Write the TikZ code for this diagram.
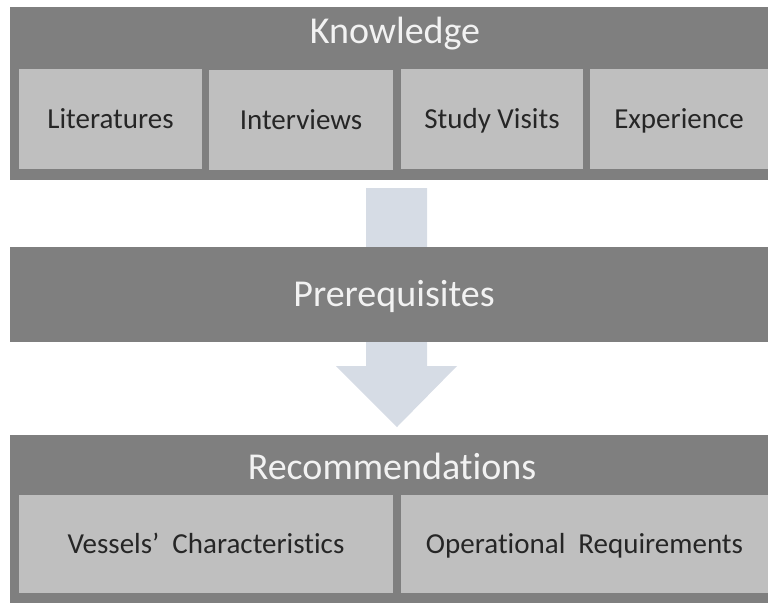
\documentclass[tikz,border=0pt]{standalone}
\usepackage{fontspec}
\setmainfont{Carlito}[RawFeature={-liga;-clig;-calt;-dlig}]
\definecolor{darkbox}{HTML}{7F7F7F}
\definecolor{lightbox}{HTML}{BFBFBF}
\definecolor{titletext}{HTML}{F2F2F2}
\definecolor{innertext}{HTML}{262626}
\definecolor{arrowfill}{HTML}{D6DCE5}
\begin{document}
\begin{tikzpicture}[x=1pt,y=1pt,
  bigbox/.style={fill=darkbox, draw=none, inner sep=0pt, outer sep=0pt, anchor=north west},
  subbox/.style={fill=lightbox, draw=none, inner sep=0pt, outer sep=0pt, anchor=north west,
     text=innertext, font=\fontsize{29}{34}\selectfont, text height=19pt, text depth=0pt},
  titletxt/.style={text=titletext, font=\fontsize{38}{44}\selectfont, inner sep=0pt, anchor=base}
]
\useasboundingbox (0,0) rectangle (768,-603);
% block arrow (behind)
\fill[arrowfill] (366,-188) -- (427,-188) -- (427,-366) -- (457,-366) -- (397,-427)
   -- (336,-366) -- (366,-366) -- cycle;
% Knowledge
\node[bigbox, minimum width=758pt, minimum height=173pt] (know) at (10,-7) {};
\node[titletxt] (knowt) at (395,-43) {Knowledge};
\node[subbox, minimum width=183pt, minimum height=100pt] (lit) at (19,-69) {Literatures};
\node[subbox, minimum width=184pt, minimum height=100pt] (int) at (209,-70) {Interviews};
\node[subbox, minimum width=182pt, minimum height=100pt] (stu) at (401,-69) {Study Visits};
\node[subbox, minimum width=178pt, minimum height=100pt] (exp) at (590,-69) {Experience};
% Prerequisites
\node[bigbox, minimum width=758pt, minimum height=95pt] (pre) at (10,-247) {};
\node[titletxt] (pret) at (394,-306) {Prerequisites};
% Recommendations
\node[bigbox, minimum width=758pt, minimum height=168pt] (rec) at (10,-435) {};
\node[titletxt] (rect) at (392,-479) {Recommendat\kern0pt ions};
\node[subbox, minimum width=374pt, minimum height=98pt] (ves) at (19,-495) {Vessels’\hspace{0.45em}Characterist\kern0pt ics};
\node[subbox, minimum width=367pt, minimum height=98pt] (ops) at (401,-495) {Operat\kern0pt ional\hspace{0.45em}Requirements};
\end{tikzpicture}
\end{document}
